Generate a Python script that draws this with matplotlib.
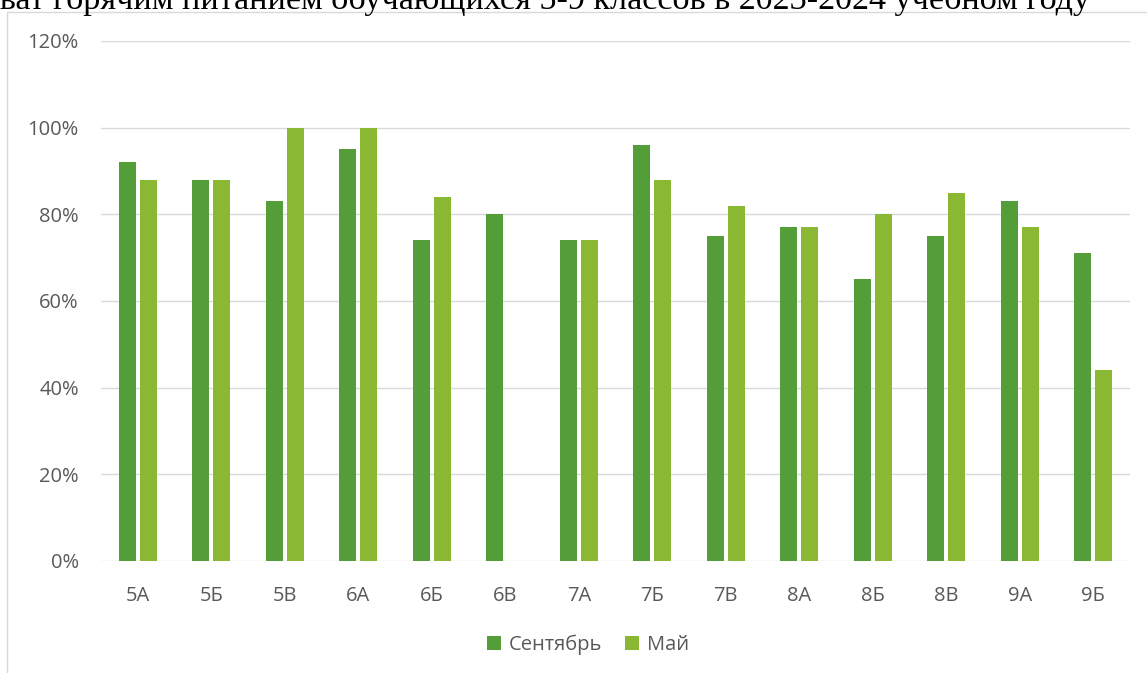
import numpy as np
import matplotlib
matplotlib.use("Agg")
from matplotlib import pyplot as plt
from matplotlib.patches import Rectangle
from matplotlib.ticker import FuncFormatter

plt.rcParams['font.family'] = ['Open Sans', 'DejaVu Sans']

classes = ["5А", "5Б", "5В", "6А", "6Б", "6В", "7А", "7Б", "7В", "8А", "8Б", "8В", "9А", "9Б"]
september = [92, 88, 83, 95, 74, 80, 74, 96, 75, 77, 65, 75, 83, 71]
may = [88, 88, 100, 100, 84, 0, 74, 88, 82, 77, 80, 85, 77, 44]
series_names = ["Сентябрь", "Май"]
title = "Охват горячим питанием обучающихся 5-9 классов в 2023-2024 учебном году"

c_sep = "#549E39"
c_may = "#8AB833"
grey = "#595959"
grid_c = "#D9D9D9"
fs = 14.5

W, H = 1147, 673
fig = plt.figure(figsize=(W/100, H/100), dpi=100)

# chart frame (cut by the picture edges on the right and bottom)
fig.patches.append(Rectangle((7.5/W, -0.1), 1.2, (H-11.5)/H+0.1, transform=fig.transFigure,
                             fill=False, edgecolor=grid_c, linewidth=1.0))

# title from the document, half outside the picture as in the original
fig.text(1090/W, (H-9)/H, title, ha='right', va='baseline',
         fontsize=24.6, family=['Liberation Serif'], color='black')

ax = fig.add_axes([101/W, (H-561)/H, (1130-101)/W, 520/H])

x = np.arange(len(classes))
bw = 0.231
off = 0.143
ax.bar(x-off, september, bw, color=c_sep, label=series_names[0], zorder=3)
ax.bar(x+off, may, bw, color=c_may, label=series_names[1], zorder=3)

ax.set_xlim(-0.5, len(classes)-0.5)
ax.set_ylim(0, 120)
ax.set_yticks(range(0, 121, 20))
ax.yaxis.set_major_formatter(FuncFormatter(lambda v, p: "%d%%" % v))
ax.set_xticks(x)
ax.set_xticklabels(classes)
ax.tick_params(axis='both', length=0, labelsize=fs, colors=grey)
ax.tick_params(axis='x', pad=18)
ax.tick_params(axis='y', pad=16)
ax.grid(axis='y', color=grid_c, linewidth=1.0, zorder=0)
for s in ax.spines.values():
    s.set_visible(False)

leg = fig.legend(loc='center', bbox_to_anchor=(588/W, (H-645)/H), ncol=2, frameon=False,
                 fontsize=fs, handlelength=0.7, handleheight=0.7, handletextpad=0.4,
                 columnspacing=1.1, borderpad=0)
for t in leg.get_texts():
    t.set_color(grey)

fig.savefig("out.png", dpi=100)
